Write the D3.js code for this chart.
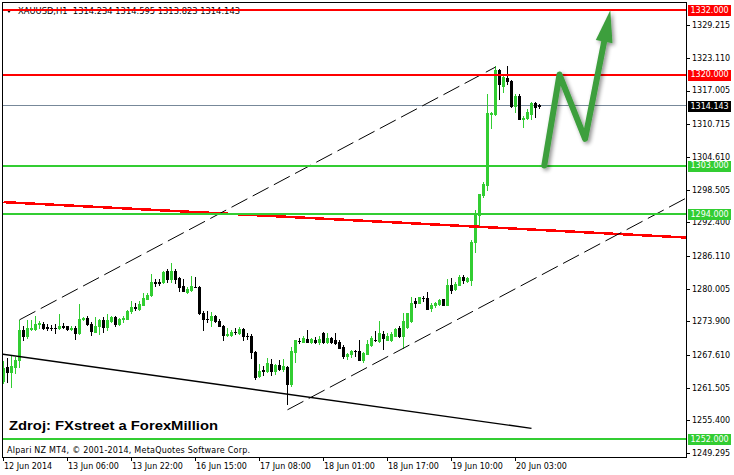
<!DOCTYPE html>
<html><head><meta charset="utf-8">
<script src="https://cdn.jsdelivr.net/npm/d3@7"></script>
<style>html,body{margin:0;padding:0;background:#fff}svg{display:block}</style>
</head><body>
<svg id="chart" width="734" height="475"></svg>
<script>
// ---------------- DATA ----------------
const headerText = "XAUUSD,H1  1314.234 1314.595 1313.823 1314.143";
const opens = [
1262.73,1265.41,1264.41,1265.41,1266.64,1272.21,1271.23,1272.47,1272.47,1273.46,
1273.46,1272.85,1272.72,1272.72,1272.59,1272.96,1272.96,1272.47,1272.72,1271.73,
1274.33,1274.57,1273.46,1271.97,1272.96,1274.20,1272.85,1274.07,1274.70,1273.33,
1274.33,1274.44,1275.82,1276.56,1276.19,1277.05,1278.16,1278.79,1281.27,1281.27,
1281.27,1283.25,1281.88,1283.37,1282.01,1280.52,1279.41,1279.78,1280.39,1280.39,
1275.56,1274.44,1274.20,1274.95,1274.07,1273.09,1271.36,1271.36,1271.97,1271.73,
1272.47,1271.23,1271.23,1268.25,1263.79,1264.78,1264.67,1266.02,1264.67,1265.78,
1265.04,1265.41,1262.17,1268.25,1270.24,1270.11,1270.61,1270.11,1270.49,1269.98,
1271.73,1269.98,1270.73,1270.36,1270.11,1269.13,1267.38,1267.75,1268.38,1268.38,
1266.77,1267.88,1269.50,1270.49,1270.24,1271.60,1270.49,1270.36,1271.23,1272.72,
1271.10,1272.85,1273.96,1277.79,1277.41,1278.29,1278.29,1276.43,1276.94,1277.18,
1278.05,1277.05,1280.76,1279.91,1280.76,1282.25,1281.39,1281.64,1288.76,1293.72,
1297.43,1299.30,1312.55,1312.61,1320.80,1317.94,1319.42,1318.81,1314.16,1316.02,
1311.69,1311.80,1312.61,1314.78,1314.234];
const highs = [
1266.45,1267.08,1267.70,1267.27,1274.20,1272.96,1274.20,1274.20,1274.82,1273.96,
1273.70,1273.46,1273.22,1273.46,1275.32,1273.59,1273.09,1272.96,1272.96,1277.18,
1274.70,1274.82,1273.70,1274.70,1274.33,1274.70,1275.32,1274.95,1274.82,1274.57,
1274.95,1276.06,1277.68,1277.30,1277.79,1279.16,1279.28,1282.75,1281.88,1281.88,
1283.37,1283.63,1284.74,1283.63,1282.25,1281.77,1280.39,1282.38,1282.25,1280.45,
1275.93,1275.82,1275.69,1275.08,1274.33,1273.22,1272.72,1272.21,1272.59,1272.85,
1272.72,1271.73,1271.47,1268.38,1266.02,1265.52,1267.01,1266.90,1266.02,1266.77,
1266.90,1265.52,1269.13,1270.49,1270.86,1271.10,1272.34,1270.86,1270.99,1271.10,
1271.97,1271.73,1270.99,1271.73,1270.36,1269.50,1268.01,1268.63,1268.63,1270.36,
1268.13,1270.36,1271.23,1272.10,1274.07,1272.10,1271.73,1271.84,1272.72,1272.96,
1275.56,1275.56,1278.42,1278.29,1278.53,1278.66,1279.41,1277.30,1277.54,1278.16,
1278.16,1281.88,1282.01,1281.27,1282.51,1282.51,1282.14,1289.07,1294.65,1297.75,
1299.85,1316.45,1313.05,1321.60,1320.98,1319.79,1321.60,1318.94,1316.45,1316.33,
1312.24,1313.48,1314.91,1314.96,1314.595];
const lows = [
1262.49,1262.55,1261.62,1264.30,1265.41,1270.49,1270.80,1272.34,1272.34,1272.59,
1272.47,1272.34,1272.21,1271.73,1272.47,1272.59,1272.34,1272.21,1270.61,1271.60,
1274.20,1273.22,1271.36,1271.84,1271.60,1271.84,1272.34,1273.83,1273.09,1273.22,
1273.70,1274.33,1275.45,1276.06,1276.06,1276.94,1278.05,1278.66,1280.52,1280.65,
1281.02,1281.27,1281.27,1281.02,1279.65,1279.54,1279.28,1279.54,1280.28,1275.32,
1272.21,1273.83,1272.96,1273.70,1272.96,1270.36,1271.23,1271.10,1271.47,1271.47,
1270.49,1270.61,1267.14,1263.18,1263.55,1263.92,1264.41,1263.92,1264.16,1264.91,
1264.67,1258.45,1261.93,1266.40,1269.87,1269.98,1269.98,1269.87,1269.87,1269.74,
1269.87,1269.87,1269.87,1269.74,1268.86,1267.01,1266.90,1267.27,1267.51,1266.71,
1266.40,1267.75,1269.37,1270.24,1270.11,1268.75,1270.36,1270.24,1271.10,1270.99,
1268.86,1272.72,1273.83,1276.67,1277.30,1277.68,1276.19,1275.93,1276.67,1277.05,
1276.94,1276.94,1279.28,1279.78,1280.65,1281.13,1281.27,1280.71,1286.90,1291.86,
1297.12,1298.37,1309.97,1312.43,1315.41,1316.82,1318.20,1313.97,1312.92,1311.61,
1310.26,1311.61,1311.61,1312.11,1313.823];
const closes = [
1265.22,1264.41,1265.65,1266.77,1272.21,1271.23,1272.72,1272.72,1273.46,1273.59,
1272.72,1272.59,1272.62,1272.62,1273.09,1272.90,1272.47,1272.72,1271.73,1274.33,
1274.57,1273.33,1272.10,1273.09,1274.20,1272.85,1274.20,1274.70,1273.33,1274.44,
1274.57,1275.82,1276.56,1276.43,1277.18,1278.29,1278.79,1281.27,1281.13,1281.13,
1283.12,1281.88,1283.37,1281.88,1280.39,1279.65,1279.91,1280.52,1280.33,1275.56,
1274.44,1274.38,1274.95,1273.96,1273.09,1271.36,1271.47,1271.97,1271.88,1272.47,
1271.23,1271.13,1268.25,1263.55,1264.67,1264.72,1266.15,1264.67,1265.78,1265.04,
1265.52,1262.30,1268.38,1270.36,1270.16,1270.73,1270.11,1270.61,1269.98,1270.61,
1269.98,1270.86,1269.98,1269.87,1269.00,1267.51,1267.75,1268.38,1268.31,1266.77,
1268.01,1269.74,1270.86,1270.43,1271.73,1270.73,1271.23,1271.47,1272.47,1271.10,
1274.07,1275.45,1277.41,1277.30,1278.42,1278.23,1276.30,1277.05,1277.41,1277.92,
1277.05,1280.76,1279.72,1280.89,1282.25,1281.64,1282.01,1288.76,1294.04,1297.62,
1299.61,1312.73,1312.80,1320.80,1318.20,1319.55,1318.81,1314.16,1316.02,1311.69,
1311.98,1312.92,1314.78,1313.85,1314.143];

const timeLabels = ["12 Jun 2014","13 Jun 06:00","13 Jun 22:00","16 Jun 15:00","17 Jun 08:00","18 Jun 01:00","18 Jun 17:00","19 Jun 10:00","20 Jun 03:00"];
const timeLabelBars = [0,16,32,48,64,80,96,112,128];
const priceTicks = [1329.215,1323.110,1317.005,1310.715,1304.610,1298.505,1292.400,1286.110,1280.005,1273.900,1267.610,1261.505,1255.400,1249.295];
const resistanceLevels = [1332.000, 1320.000];
const supportLevels = [1303.000, 1294.000, 1252.000];
const bidPrice = 1314.143;
const upperChannel = [[4, 1274.20], [123, 1321.40]];
const lowerChannelStart = [71, 1257.40];
const downTrend = [[0, 1267.75], [132, 1253.93]];
const redTrend = [[0, 1296.18], [170.6, 1289.57]];
const arrowPoints = [[135.2, 1303.0], [139.0, 1320.0], [145.4, 1308.0], [151.7, 1332.0]];
const sourceText = "Zdroj: FXstreet a ForexMillion";
const copyrightText = "Alpari NZ MT4, \u00A9 2001-2014, MetaQuotes Software Corp.";

// ---------------- CHART ----------------
const svg = d3.select("#chart");
const GREEN = "#32cd32", RED = "#ff0000";
const FONT = "'DejaVu Sans', Verdana, sans-serif";
const plotL = 2, plotR = 686, plotT = 2, plotB = 457;

const x = d3.scaleLinear().domain([0, 1]).range([3.5, 7.5]);       // bar centre
const y = d3.scaleLinear().domain([1252, 1332]).range([438.7, 10.3]);
const py = v => Math.round(y(v));

svg.append("rect").attr("width", 734).attr("height", 475).attr("fill", "#fff");

const defs = svg.append("defs");
defs.append("clipPath").attr("id", "plotclip").append("rect")
  .attr("x", plotL + 1).attr("y", plotT + 1).attr("width", plotR - plotL - 1).attr("height", plotB - plotT - 1);
const f = defs.append("filter").attr("id", "shadow").attr("x", "-30%").attr("y", "-30%").attr("width", "160%").attr("height", "160%");
f.append("feGaussianBlur").attr("in", "SourceAlpha").attr("stdDeviation", 2.2).attr("result", "b");
f.append("feOffset").attr("in", "b").attr("dx", 2).attr("dy", 2).attr("result", "o");
f.append("feComponentTransfer").attr("in", "o").attr("result", "s").append("feFuncA").attr("type", "linear").attr("slope", 0.45);
const fm = f.append("feMerge");
fm.append("feMergeNode").attr("in", "s");
fm.append("feMergeNode").attr("in", "SourceGraphic");

// header
svg.append("path").attr("d", "M6,9 L12,9 L9,13 Z").attr("fill", "#000");
svg.append("text").attr("x", 18).attr("y", 13.5).attr("font-family", FONT).attr("font-size", 8)
  .attr("fill", "#000").attr("textLength", 222).attr("lengthAdjust", "spacingAndGlyphs")
  .style("white-space", "pre").text(headerText);

const plot = svg.append("g").attr("clip-path", "url(#plotclip)");

// bid line
plot.append("rect").attr("x", plotL).attr("width", plotR - plotL).attr("y", Math.floor(y(bidPrice))).attr("height", 1).attr("fill", "#778899");

// candles
const candles = opens.map((o, i) => ({ i, o, h: highs[i], l: lows[i], c: closes[i], up: closes[i] >= opens[i] }));
plot.selectAll("rect.wick").data(candles).join("rect").attr("class", "wick")
  .attr("x", d => Math.round(x(d.i) - 0.5)).attr("width", 1)
  .attr("y", d => py(d.h)).attr("height", d => Math.max(1, py(d.l) - py(d.h) + 1))
  .attr("fill", d => d.up ? GREEN : "#000");
plot.selectAll("rect.body").data(candles).join("rect").attr("class", "body")
  .attr("x", d => Math.round(x(d.i) - 0.5) - 1).attr("width", 3)
  .attr("y", d => py(Math.max(d.o, d.c)))
  .attr("height", d => Math.max(1, py(Math.min(d.o, d.c)) - py(Math.max(d.o, d.c)) + 1))
  .attr("fill", d => d.up ? GREEN : "#000");

// trend lines
const seg = (p0, p1, extendTo) => {
  let a = p0, b = p1;
  if (extendTo !== undefined) {
    const s = (p1[1] - p0[1]) / (p1[0] - p0[0]);
    b = [extendTo, p0[1] + s * (extendTo - p0[0])];
  }
  return [[x(a[0]), y(a[1])], [x(b[0]), y(b[1])]];
};
const line = d3.line();
plot.append("path").attr("d", line(seg(redTrend[0], redTrend[1], 175)))
  .attr("stroke", RED).attr("stroke-width", 2.5).attr("fill", "none").attr("shape-rendering", "crispEdges");
plot.append("path").attr("d", line(seg([-2, downTrend[0][1] - 2 * (downTrend[1][1] - downTrend[0][1]) / (downTrend[1][0] - downTrend[0][0])], downTrend[1])))
  .attr("stroke", "#000").attr("stroke-width", 1.4).attr("fill", "none");
plot.append("path").attr("d", line(seg(upperChannel[0], upperChannel[1])))
  .attr("stroke", "#000").attr("stroke-width", 1).attr("stroke-dasharray", "18,6").attr("fill", "none");
const chSlope = (upperChannel[1][1] - upperChannel[0][1]) / (upperChannel[1][0] - upperChannel[0][0]);
plot.append("path").attr("d", line(seg(lowerChannelStart, [lowerChannelStart[0] + 1, lowerChannelStart[1] + chSlope], 175)))
  .attr("stroke", "#000").attr("stroke-width", 1).attr("stroke-dasharray", "18,6").attr("fill", "none");

// horizontal levels
resistanceLevels.forEach(p => plot.append("rect").attr("x", plotL).attr("width", plotR - plotL)
  .attr("y", Math.round(y(p) - 1)).attr("height", 2).attr("fill", RED));
supportLevels.forEach(p => plot.append("rect").attr("x", plotL).attr("width", plotR - plotL)
  .attr("y", Math.round(y(p) - 1)).attr("height", 2).attr("fill", GREEN));

// arrow
const ap = arrowPoints.map(d => [x(d[0]), y(d[1])]);
const tip = ap[ap.length - 1], prev = ap[ap.length - 2];
const dx = tip[0] - prev[0], dy = tip[1] - prev[1], len = Math.hypot(dx, dy);
const ux = dx / len, uy = dy / len, headLen = 32, headHalf = 8.5;
const base = [tip[0] - ux * headLen, tip[1] - uy * headLen];
const shaft = ap.slice(0, -1).concat([[tip[0] - ux * (headLen - 4), tip[1] - uy * (headLen - 4)]]);
const ag = svg.append("g").attr("filter", "url(#shadow)");
ag.append("path").attr("d", line(shaft)).attr("fill", "none").attr("stroke", "#3d9f3d")
  .attr("stroke-width", 6).attr("stroke-linejoin", "round").attr("stroke-linecap", "round");
ag.append("path").attr("d", line([tip, [base[0] - uy * headHalf, base[1] + ux * headHalf], [base[0] + uy * headHalf, base[1] - ux * headHalf]]) + "Z")
  .attr("fill", "#3d9f3d");

// frame
svg.append("rect").attr("x", plotL + 0.5).attr("y", plotT + 0.5).attr("width", plotR - plotL).attr("height", plotB - plotT)
  .attr("fill", "none").attr("stroke", "#000").attr("stroke-width", 1);

// price axis
const ya = svg.append("g");
priceTicks.forEach(p => {
  ya.append("rect").attr("x", plotR + 1).attr("y", Math.round(y(p))).attr("width", 3).attr("height", 1).attr("fill", "#000");
  ya.append("text").attr("x", 692).attr("y", y(p)).attr("dy", "0.36em").attr("font-family", FONT).attr("font-size", 8).attr("fill", "#000").text(p.toFixed(3));
});
const boxLabel = (p, bg) => {
  ya.append("rect").attr("x", 688).attr("y", Math.round(y(p)) - 5).attr("width", 43).attr("height", 11).attr("fill", bg);
  ya.append("text").attr("x", 690.5).attr("y", y(p)).attr("dy", "0.36em").attr("font-family", FONT).attr("font-size", 8).attr("fill", "#fff").text(p.toFixed(3));
};
resistanceLevels.forEach(p => boxLabel(p, RED));
supportLevels.forEach(p => boxLabel(p, GREEN));
boxLabel(bidPrice, "#000");

// time axis
const xa = svg.append("g");
timeLabelBars.forEach((b, k) => {
  xa.append("rect").attr("x", Math.round(x(b) - 0.5)).attr("y", plotB).attr("width", 1).attr("height", 4).attr("fill", "#000");
  xa.append("text").attr("x", Math.round(x(b) - 0.5) + 1).attr("y", 469).attr("font-family", FONT).attr("font-size", 8).attr("fill", "#000").text(timeLabels[k]);
});

// annotations
svg.append("text").attr("x", 9).attr("y", 429.5).attr("font-family", "'Liberation Sans', Arial, sans-serif")
  .attr("font-weight", "bold").attr("font-size", 13).attr("fill", "#000")
  .attr("textLength", 209).attr("lengthAdjust", "spacingAndGlyphs").text(sourceText);
svg.append("text").attr("x", 7).attr("y", 453).attr("font-family", FONT).attr("font-size", 8).attr("fill", "#000")
  .attr("textLength", 243).attr("lengthAdjust", "spacing").text(copyrightText);
</script>
</body></html>
